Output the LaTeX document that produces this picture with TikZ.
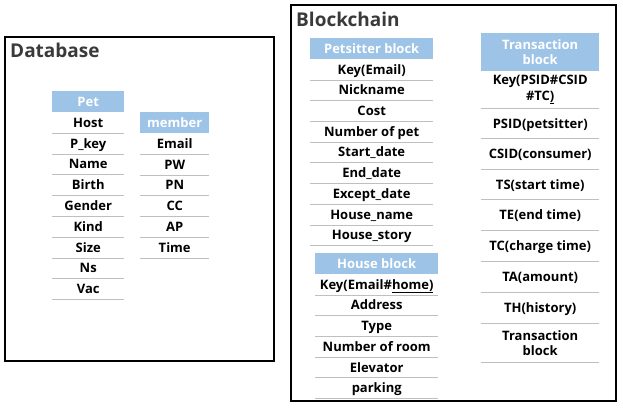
\documentclass[tikz,border=0pt]{standalone}
\usepackage{fontspec}
\setmainfont{Open Sans}
\begin{document}
\definecolor{hdrblue}{HTML}{9DC3E6}
\definecolor{rulegray}{HTML}{BFBFBF}
\definecolor{titlegray}{HTML}{3A3A3A}
\begin{tikzpicture}[x=1pt,y=-1pt,
  frame/.style={draw=black,line width=1.1pt},
  title/.style={font=\fontsize{19}{22}\selectfont\bfseries,text=titlegray,anchor=base west,inner sep=0pt},
  txt/.style={font=\fontsize{13}{15.5}\selectfont\bfseries,anchor=north west,inner sep=0pt,align=center},
  one/.style={text height=11pt,text depth=1.7pt},
  hdr/.style={txt,fill=hdrblue,text=white},
  cell/.style={txt,text=black},
  rule/.style={draw=rulegray,line width=0.9pt}]
\useasboundingbox (0,0) rectangle (623,414);

% ---------- Database ----------
\draw[frame] (5,37) rectangle (274,361);
\node[title] (dbtitle) at (10,58) {Database};

% Pet table
\node[hdr,one,minimum width=72pt,minimum height=21pt] (pethdr) at (52,91) {Pet};
\foreach \t [count=\i] in {Host,P\_key,Name,Birth,Gender,Kind,Size,Ns,Vac}{
  \node[cell,one,minimum width=72pt,minimum height=20.8pt] (pet\i) at (52,{112+20.8*(\i-1)}) {\t};
  \draw[rule] (pet\i.south west) -- (pet\i.south east);
}

% member table
\node[hdr,one,minimum width=69pt,minimum height=21pt] (memhdr) at (140,112) {member};
\foreach \t [count=\i] in {Email,PW,PN,CC,AP,Time}{
  \node[cell,one,minimum width=69pt,minimum height=20.8pt] (mem\i) at (140,{133+20.8*(\i-1)}) {\t};
  \draw[rule] (mem\i.south west) -- (mem\i.south east);
}

% ---------- Blockchain ----------
\draw[frame] (291,5) rectangle (616,401);
\node[title] (bctitle) at (296,27) {Blockchain};

% Petsitter block
\node[hdr,one,minimum width=123pt,minimum height=21pt] (pshdr) at (310,38) {Petsitter block};
\foreach \t [count=\i] in {Key(Email),Nickname,Cost,Number of pet,Start\_date,End\_date,Except\_date,House\_name,House\_story}{
  \node[cell,one,minimum width=123pt,minimum height=20.7pt] (ps\i) at (310,{59+20.7*(\i-1)}) {\t};
  \draw[rule] (ps\i.south west) -- (ps\i.south east);
}

% House block
\node[hdr,one,minimum width=123pt,minimum height=21pt] (hshdr) at (315,253) {House block};
\foreach \t [count=\i] in {{Key(Email\#\underline{home)}},Address,Type,Number of room,Elevator,parking}{
  \node[cell,one,minimum width=123pt,minimum height=20.7pt] (hs\i) at (315,{274+20.7*(\i-1)}) {\t};
  \draw[rule] (hs\i.south west) -- (hs\i.south east);
}

% Transaction block (two-line cells keep their natural height)
\node[hdr,minimum width=118pt,minimum height=38pt] (txhdr) at (481,33) {Transaction\\block};
\foreach \t/\y/\h/\st [count=\i] in {
  {Key(PSID\#CSID\\\#TC\underline{)}}/71/37/cell,
  {PSID(petsitter)}/108/30.5/one,
  {CSID(consumer)}/138.5/30.5/one,
  {TS(start time)}/169/30.5/one,
  {TE(end time)}/199.5/31/one,
  {TC(charge time)}/230.5/31/one,
  {TA(amount)}/261.5/31/one,
  {TH(history)}/292.5/31/one,
  {Transaction\\block}/323.5/38.5/cell}{
  \node[cell,\st,minimum width=118pt,minimum height=\h pt] (tx\i) at (481,\y) {\t};
  \draw[rule] (tx\i.south west) -- (tx\i.south east);
}
\end{tikzpicture}
\end{document}
